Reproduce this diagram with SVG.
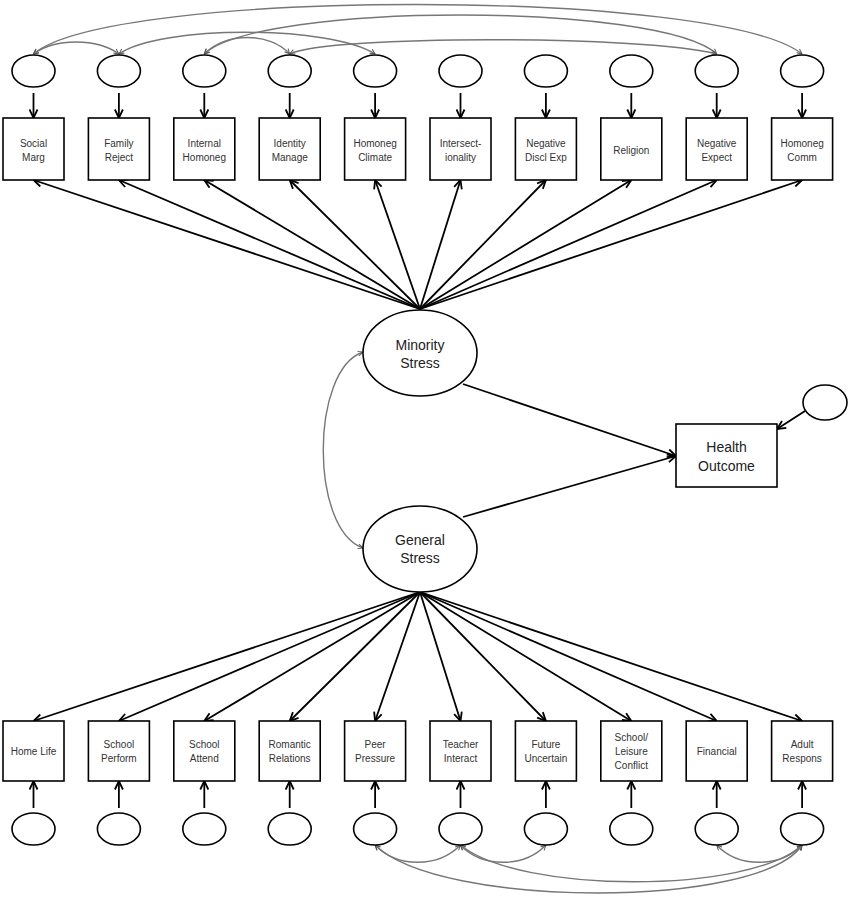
<svg xmlns="http://www.w3.org/2000/svg" width="851" height="898" viewBox="0 0 851 898">
<style>
.box{fill:#fff;stroke:#000;stroke-width:1.6}
.ell{fill:#fff;stroke:#000;stroke-width:1.6}
.lbl{font-family:"Liberation Sans",Arial,sans-serif;font-size:10px;fill:#333;text-anchor:middle}
.big{font-family:"Liberation Sans",Arial,sans-serif;font-size:14px;fill:#222;text-anchor:middle}
.path{fill:none;stroke:#000;stroke-width:1.8;marker-end:url(#ah)}
.cov{fill:none;stroke:#777;stroke-width:1.4;marker-start:url(#gh);marker-end:url(#gh)}
</style>
<defs>
<marker id="ah" viewBox="0 0 10 10" refX="9.5" refY="5" markerWidth="10" markerHeight="10" markerUnits="userSpaceOnUse" orient="auto"><path d="M1,1 L9.5,5 L1,9" fill="none" stroke="#000" stroke-width="1.8"/></marker>
<marker id="gh" viewBox="0 0 10 10" refX="9.5" refY="5" markerWidth="6" markerHeight="6" markerUnits="userSpaceOnUse" orient="auto-start-reverse"><path d="M1,1 L9.5,5 L1,9" fill="none" stroke="#555" stroke-width="1.6"/></marker>
</defs>
<rect width="851" height="898" fill="#fff"/>

<g id="connectors">
<!-- top residual covariances -->
<path class="cov" d="M33.5,54 C110,-12 720,-12 802,54"/>
<path class="cov" d="M204.3,54 C260,2 660,2 716.7,54"/>
<path class="cov" d="M118.9,54 C160,25 330,25 375.1,54"/>
<path class="cov" d="M289.7,54 C330,35 640,35 716.7,54"/>
<path class="cov" d="M204.3,54 C225,32 270,32 289.7,54"/>
<path class="cov" d="M33.5,54 C55,38 97,38 118.9,54"/>
<!-- bottom residual covariances -->
<path class="cov" d="M375.1,845 C397,868 438,868 460.5,845"/>
<path class="cov" d="M460.5,845 C482,868 524,868 545.9,845"/>
<path class="cov" d="M716.7,845 C738,868 780,868 802.1,845"/>
<path class="cov" d="M460.5,845 C520,894 750,894 802.1,845"/>
<path class="cov" d="M375.1,845 C440,909 760,909 802.1,845"/>
<!-- latent covariance -->
<path class="cov" d="M363,352 C310,370 310,530 363,548"/>
<!-- top residual arrows -->
<path class="path" d="M33.5,93 V118"/>
<path class="path" d="M118.9,93 V118"/>
<path class="path" d="M204.3,93 V118"/>
<path class="path" d="M289.7,93 V118"/>
<path class="path" d="M375.1,93 V118"/>
<path class="path" d="M460.5,93 V118"/>
<path class="path" d="M545.9,93 V118"/>
<path class="path" d="M631.3,93 V118"/>
<path class="path" d="M716.7,93 V118"/>
<path class="path" d="M802.1,93 V118"/>
<!-- minority stress loadings -->
<path class="path" d="M420,309 L33.5,180"/>
<path class="path" d="M420,309 L118.9,180"/>
<path class="path" d="M420,309 L204.3,180"/>
<path class="path" d="M420,309 L289.7,180"/>
<path class="path" d="M420,309 L375.1,180"/>
<path class="path" d="M420,309 L460.5,180"/>
<path class="path" d="M420,309 L545.9,180"/>
<path class="path" d="M420,309 L631.3,180"/>
<path class="path" d="M420,309 L716.7,180"/>
<path class="path" d="M420,309 L802.1,180"/>
<!-- general stress loadings -->
<path class="path" d="M420,592 L33.5,721"/>
<path class="path" d="M420,592 L118.9,721"/>
<path class="path" d="M420,592 L204.3,721"/>
<path class="path" d="M420,592 L289.7,721"/>
<path class="path" d="M420,592 L375.1,721"/>
<path class="path" d="M420,592 L460.5,721"/>
<path class="path" d="M420,592 L545.9,721"/>
<path class="path" d="M420,592 L631.3,721"/>
<path class="path" d="M420,592 L716.7,721"/>
<path class="path" d="M420,592 L802.1,721"/>
<!-- bottom residual arrows -->
<path class="path" d="M33.5,808 V781"/>
<path class="path" d="M118.9,808 V781"/>
<path class="path" d="M204.3,808 V781"/>
<path class="path" d="M289.7,808 V781"/>
<path class="path" d="M375.1,808 V781"/>
<path class="path" d="M460.5,808 V781"/>
<path class="path" d="M545.9,808 V781"/>
<path class="path" d="M631.3,808 V781"/>
<path class="path" d="M716.7,808 V781"/>
<path class="path" d="M802.1,808 V781"/>
<!-- structural paths -->
<path class="path" d="M463,384 L676,456"/>
<path class="path" d="M463,517 L676,456"/>
<path class="path" d="M805,411 L777,429"/>
</g>

<!-- top residual ellipses -->
<g id="e_top1"><ellipse class="ell" cx="33.5" cy="71" rx="21.5" ry="16"/></g>
<g id="e_top2"><ellipse class="ell" cx="118.9" cy="71" rx="21.5" ry="16"/></g>
<g id="e_top3"><ellipse class="ell" cx="204.3" cy="71" rx="21.5" ry="16"/></g>
<g id="e_top4"><ellipse class="ell" cx="289.7" cy="71" rx="21.5" ry="16"/></g>
<g id="e_top5"><ellipse class="ell" cx="375.1" cy="71" rx="21.5" ry="16"/></g>
<g id="e_top6"><ellipse class="ell" cx="460.5" cy="71" rx="21.5" ry="16"/></g>
<g id="e_top7"><ellipse class="ell" cx="545.9" cy="71" rx="21.5" ry="16"/></g>
<g id="e_top8"><ellipse class="ell" cx="631.3" cy="71" rx="21.5" ry="16"/></g>
<g id="e_top9"><ellipse class="ell" cx="716.7" cy="71" rx="21.5" ry="16"/></g>
<g id="e_top10"><ellipse class="ell" cx="802.1" cy="71" rx="21.5" ry="16"/></g>

<!-- top indicator boxes -->
<g id="social_marg"><rect class="box" x="3" y="118" width="61" height="62"/><text class="lbl" x="33.5" y="147">Social</text><text class="lbl" x="33.5" y="161">Marg</text></g>
<g id="family_reject"><rect class="box" x="88.4" y="118" width="61" height="62"/><text class="lbl" x="118.9" y="147">Family</text><text class="lbl" x="118.9" y="161">Reject</text></g>
<g id="internal_homoneg"><rect class="box" x="173.8" y="118" width="61" height="62"/><text class="lbl" x="204.3" y="147">Internal</text><text class="lbl" x="204.3" y="161">Homoneg</text></g>
<g id="identity_manage"><rect class="box" x="259.2" y="118" width="61" height="62"/><text class="lbl" x="289.7" y="147">Identity</text><text class="lbl" x="289.7" y="161">Manage</text></g>
<g id="homoneg_climate"><rect class="box" x="344.6" y="118" width="61" height="62"/><text class="lbl" x="375.1" y="147">Homoneg</text><text class="lbl" x="375.1" y="161">Climate</text></g>
<g id="intersectionality"><rect class="box" x="430" y="118" width="61" height="62"/><text class="lbl" x="460.5" y="147">Intersect-</text><text class="lbl" x="460.5" y="161">ionality</text></g>
<g id="negative_discl"><rect class="box" x="515.4" y="118" width="61" height="62"/><text class="lbl" x="545.9" y="147">Negative</text><text class="lbl" x="545.9" y="161">Discl Exp</text></g>
<g id="religion"><rect class="box" x="600.8" y="118" width="61" height="62"/><text class="lbl" x="631.3" y="154">Religion</text></g>
<g id="negative_expect"><rect class="box" x="686.2" y="118" width="61" height="62"/><text class="lbl" x="716.7" y="147">Negative</text><text class="lbl" x="716.7" y="161">Expect</text></g>
<g id="homoneg_comm"><rect class="box" x="771.6" y="118" width="61" height="62"/><text class="lbl" x="802.1" y="147">Homoneg</text><text class="lbl" x="802.1" y="161">Comm</text></g>

<!-- latent variables -->
<g id="minority_stress"><ellipse class="ell" cx="420" cy="353" rx="57" ry="43"/><text class="big" x="420" y="350">Minority</text><text class="big" x="420" y="368">Stress</text></g>
<g id="general_stress"><ellipse class="ell" cx="420" cy="549" rx="57" ry="43"/><text class="big" x="420" y="545">General</text><text class="big" x="420" y="563">Stress</text></g>

<!-- outcome -->
<g id="health_outcome"><rect class="box" x="676" y="424" width="101" height="63"/><text class="big" x="726.5" y="452">Health</text><text class="big" x="726.5" y="471">Outcome</text></g>
<g id="e_health"><ellipse class="ell" cx="825" cy="402.5" rx="22" ry="17.5"/></g>

<!-- bottom indicator boxes -->
<g id="home_life"><rect class="box" x="3" y="721" width="61" height="60"/><text class="lbl" x="33.5" y="754.5">Home Life</text></g>
<g id="school_perform"><rect class="box" x="88.4" y="721" width="61" height="60"/><text class="lbl" x="118.9" y="747.5">School</text><text class="lbl" x="118.9" y="761.5">Perform</text></g>
<g id="school_attend"><rect class="box" x="173.8" y="721" width="61" height="60"/><text class="lbl" x="204.3" y="747.5">School</text><text class="lbl" x="204.3" y="761.5">Attend</text></g>
<g id="romantic_relations"><rect class="box" x="259.2" y="721" width="61" height="60"/><text class="lbl" x="289.7" y="747.5">Romantic</text><text class="lbl" x="289.7" y="761.5">Relations</text></g>
<g id="peer_pressure"><rect class="box" x="344.6" y="721" width="61" height="60"/><text class="lbl" x="375.1" y="747.5">Peer</text><text class="lbl" x="375.1" y="761.5">Pressure</text></g>
<g id="teacher_interact"><rect class="box" x="430" y="721" width="61" height="60"/><text class="lbl" x="460.5" y="747.5">Teacher</text><text class="lbl" x="460.5" y="761.5">Interact</text></g>
<g id="future_uncertain"><rect class="box" x="515.4" y="721" width="61" height="60"/><text class="lbl" x="545.9" y="747.5">Future</text><text class="lbl" x="545.9" y="761.5">Uncertain</text></g>
<g id="school_leisure"><rect class="box" x="600.8" y="721" width="61" height="60"/><text class="lbl" x="631.3" y="740.5">School/</text><text class="lbl" x="631.3" y="754.5">Leisure</text><text class="lbl" x="631.3" y="768.5">Conflict</text></g>
<g id="financial"><rect class="box" x="686.2" y="721" width="61" height="60"/><text class="lbl" x="716.7" y="754.5">Financial</text></g>
<g id="adult_respons"><rect class="box" x="771.6" y="721" width="61" height="60"/><text class="lbl" x="802.1" y="747.5">Adult</text><text class="lbl" x="802.1" y="761.5">Respons</text></g>

<!-- bottom residual ellipses -->
<g id="e_bot1"><ellipse class="ell" cx="33.5" cy="829" rx="21.5" ry="16"/></g>
<g id="e_bot2"><ellipse class="ell" cx="118.9" cy="829" rx="21.5" ry="16"/></g>
<g id="e_bot3"><ellipse class="ell" cx="204.3" cy="829" rx="21.5" ry="16"/></g>
<g id="e_bot4"><ellipse class="ell" cx="289.7" cy="829" rx="21.5" ry="16"/></g>
<g id="e_bot5"><ellipse class="ell" cx="375.1" cy="829" rx="21.5" ry="16"/></g>
<g id="e_bot6"><ellipse class="ell" cx="460.5" cy="829" rx="21.5" ry="16"/></g>
<g id="e_bot7"><ellipse class="ell" cx="545.9" cy="829" rx="21.5" ry="16"/></g>
<g id="e_bot8"><ellipse class="ell" cx="631.3" cy="829" rx="21.5" ry="16"/></g>
<g id="e_bot9"><ellipse class="ell" cx="716.7" cy="829" rx="21.5" ry="16"/></g>
<g id="e_bot10"><ellipse class="ell" cx="802.1" cy="829" rx="21.5" ry="16"/></g>
</svg>
